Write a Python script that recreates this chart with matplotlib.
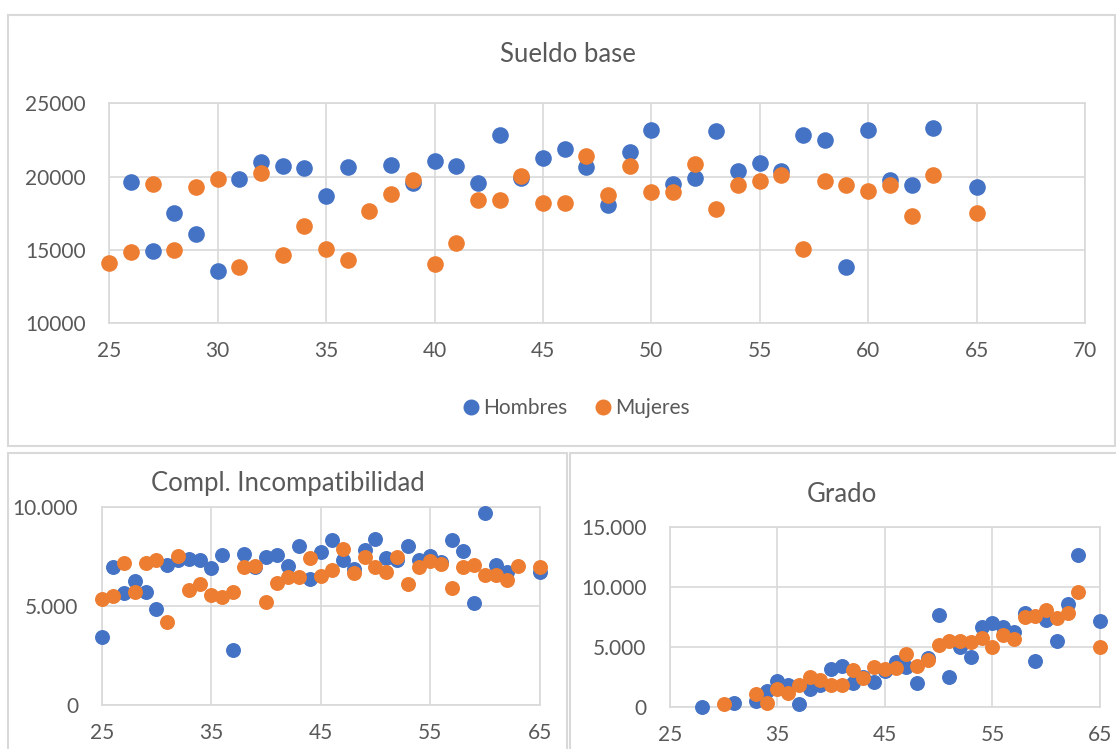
import numpy as np
import matplotlib.pyplot as plt
from matplotlib.patches import Rectangle
from matplotlib.lines import Line2D
from matplotlib.ticker import FuncFormatter

nan = np.nan

# Edades (eje x comun)
edades = list(range(25, 66))

# Sueldo base
sueldo_hombres = [nan, 19640, 14950, 17500, 16100, 13600, 19860, 21020, 20750, 20610,
                  18680, 20660, nan, 20820, 19600, 21090, 20730, 19550, 22840, 19890,
                  21250, 21910, 20660, 18090, 21660, 23180, 19480, 19910, 23120, 20360,
                  20910, 20390, 22820, 22480, 13860, 23160, 19750, 19460, 23300, nan, 19280]
sueldo_mujeres = [14140, 14890, 19480, 14980, 19320, 19840, 13840, 20270, 14640, 16620,
                  15050, 14340, 17680, 18800, 19750, 14070, 15480, 18410, 18430, 20070,
                  18230, 18230, 21430, 18730, 20730, 18930, 18980, 20870, 17780, 19410,
                  19680, 20090, 15070, 19680, 19410, 19000, 19430, 17320, 20090, nan, 17550]

# Complemento de incompatibilidad
compl_hombres = [3420, 6950, 5630, 6240, 5710, 4850, 7070, 7300, 7370, 7320,
                 6910, 7540, 2760, 7630, 6950, 7460, 7570, 7000, 8035, 6370,
                 7700, 8300, 7300, 6880, 7820, 8380, 7420, 7300, 8035, 7330,
                 7500, 7200, 8330, 7780, 5130, 9670, 7080, 6720, nan, nan, 6720]
compl_mujeres = [5340, 5510, 7170, 5680, 7170, 7290, 4190, 7510, 5810, 6080,
                 5560, 5440, 5710, 6950, 7030, 5200, 6140, 6450, 6470, 7420,
                 6500, 6830, 7880, 6670, 7470, 6970, 6720, 7470, 6120, 6970,
                 7280, 7130, 5920, 6950, 7050, 6580, 6580, 6280, 7000, nan, 6950]

# Grado
grado_hombres = [nan, nan, nan, 0, nan, nan, 280, nan, 500, 1330,
                 2140, 1800, 220, 1440, 1800, 3140, 3390, 1940, 2500, 2030,
                 3000, 3750, 3330, 2000, 4030, 7640, 2440, 5000, 4170, 6670,
                 7000, 6670, 6250, 7780, 3830, 7220, 5500, 8560, 12610, nan, 7170]
grado_mujeres = [nan, nan, nan, nan, nan, 220, nan, nan, 1030, 280,
                 1440, 1110, 1800, 2440, 2220, 1800, 1800, 3060, 2360, 3280,
                 3140, 3250, 4390, 3390, 3890, 5140, 5500, 5500, 5360, 5690,
                 4940, 5970, 5610, 7500, 7580, 8060, 7420, 7780, 9580, nan, 5000]

AZUL = '#4472C4'
NARANJA = '#ED7D31'
GRIS = '#D9D9D9'
TEXTO = '#595959'

plt.rcParams['font.family'] = ['Lato', 'DejaVu Sans']

W, H = 1116, 749
fig = plt.figure(figsize=(W / 100, H / 100), dpi=100)


def caja(x0, y0, x1, y1):
    # rectangulo en pixeles (origen arriba a la izquierda)
    fig.patches.append(Rectangle((x0 / W, 1 - y1 / H), (x1 - x0) / W, (y1 - y0) / H,
                                 transform=fig.transFigure, fill=False,
                                 edgecolor=GRIS, lw=1.5))


def ejes(x0, y0, x1, y1):
    return fig.add_axes([x0 / W, 1 - y1 / H, (x1 - x0) / W, (y1 - y0) / H])


def estilo(ax, size):
    for s in ax.spines.values():
        s.set_color(GRIS)
        s.set_linewidth(1.2)
    ax.grid(True, color=GRIS, lw=1.2)
    ax.set_axisbelow(True)
    ax.tick_params(length=0, labelsize=size, colors=TEXTO)
    ax.tick_params(axis='y', pad=17)
    ax.tick_params(axis='x', pad=13)


def puntos(ax, hombres, mujeres, s):
    ax.scatter(edades, hombres, s=s, color=AZUL, zorder=3, clip_on=False)
    ax.scatter(edades, mujeres, s=s, color=NARANJA, zorder=4, clip_on=False)


miles = FuncFormatter(lambda v, p: f"{int(v):,}".replace(',', '.'))

caja(8, 15, 1115, 446)
caja(8, 453, 567, 760)
caja(570, 453, 1125, 760)

# --- Sueldo base ---
ax1 = ejes(109.3, 103.3, 1085, 323.3)
puntos(ax1, sueldo_hombres, sueldo_mujeres, 120)
ax1.set_xlim(25, 70)
ax1.set_ylim(10000, 25000)
ax1.set_xticks(range(25, 71, 5))
ax1.set_yticks(range(10000, 25001, 5000))
estilo(ax1, 15)
fig.text(568 / W, 1 - 55 / H, 'Sueldo base', ha='center', va='center',
         fontsize=18.5, color=TEXTO)

handles = [Line2D([], [], ls='', marker='o', ms=10.5, color=AZUL),
           Line2D([], [], ls='', marker='o', ms=10.5, color=NARANJA)]
fig.legend(handles, ['Hombres', 'Mujeres'], loc='center',
           bbox_to_anchor=(575 / W, 1 - 408 / H), ncol=2, frameon=False,
           fontsize=15, labelcolor=TEXTO, handletextpad=0.1, columnspacing=1.2,
           handlelength=1.0)

# --- Compl. Incompatibilidad ---
ax2 = ejes(101.7, 506.7, 539.7, 705)
puntos(ax2, compl_hombres, compl_mujeres, 95)
ax2.set_xlim(25, 65)
ax2.set_ylim(0, 10000)
ax2.set_xticks(range(25, 66, 10))
ax2.set_yticks([0, 5000, 10000])
ax2.yaxis.set_major_formatter(miles)
estilo(ax2, 15)
fig.text(288 / W, 1 - 484 / H, 'Compl. Incompatibilidad', ha='center', va='center',
         fontsize=18.5, color=TEXTO)

# --- Grado ---
ax3 = ejes(670, 526.7, 1100, 706.7)
puntos(ax3, grado_hombres, grado_mujeres, 95)
ax3.set_xlim(25, 65)
ax3.set_ylim(0, 15000)
ax3.set_xticks(range(25, 66, 10))
ax3.set_yticks([0, 5000, 10000, 15000])
ax3.yaxis.set_major_formatter(miles)
estilo(ax3, 15)
fig.text(842 / W, 1 - 494 / H, 'Grado', ha='center', va='center',
         fontsize=18.5, color=TEXTO)

fig.savefig('out.png', dpi=100)
